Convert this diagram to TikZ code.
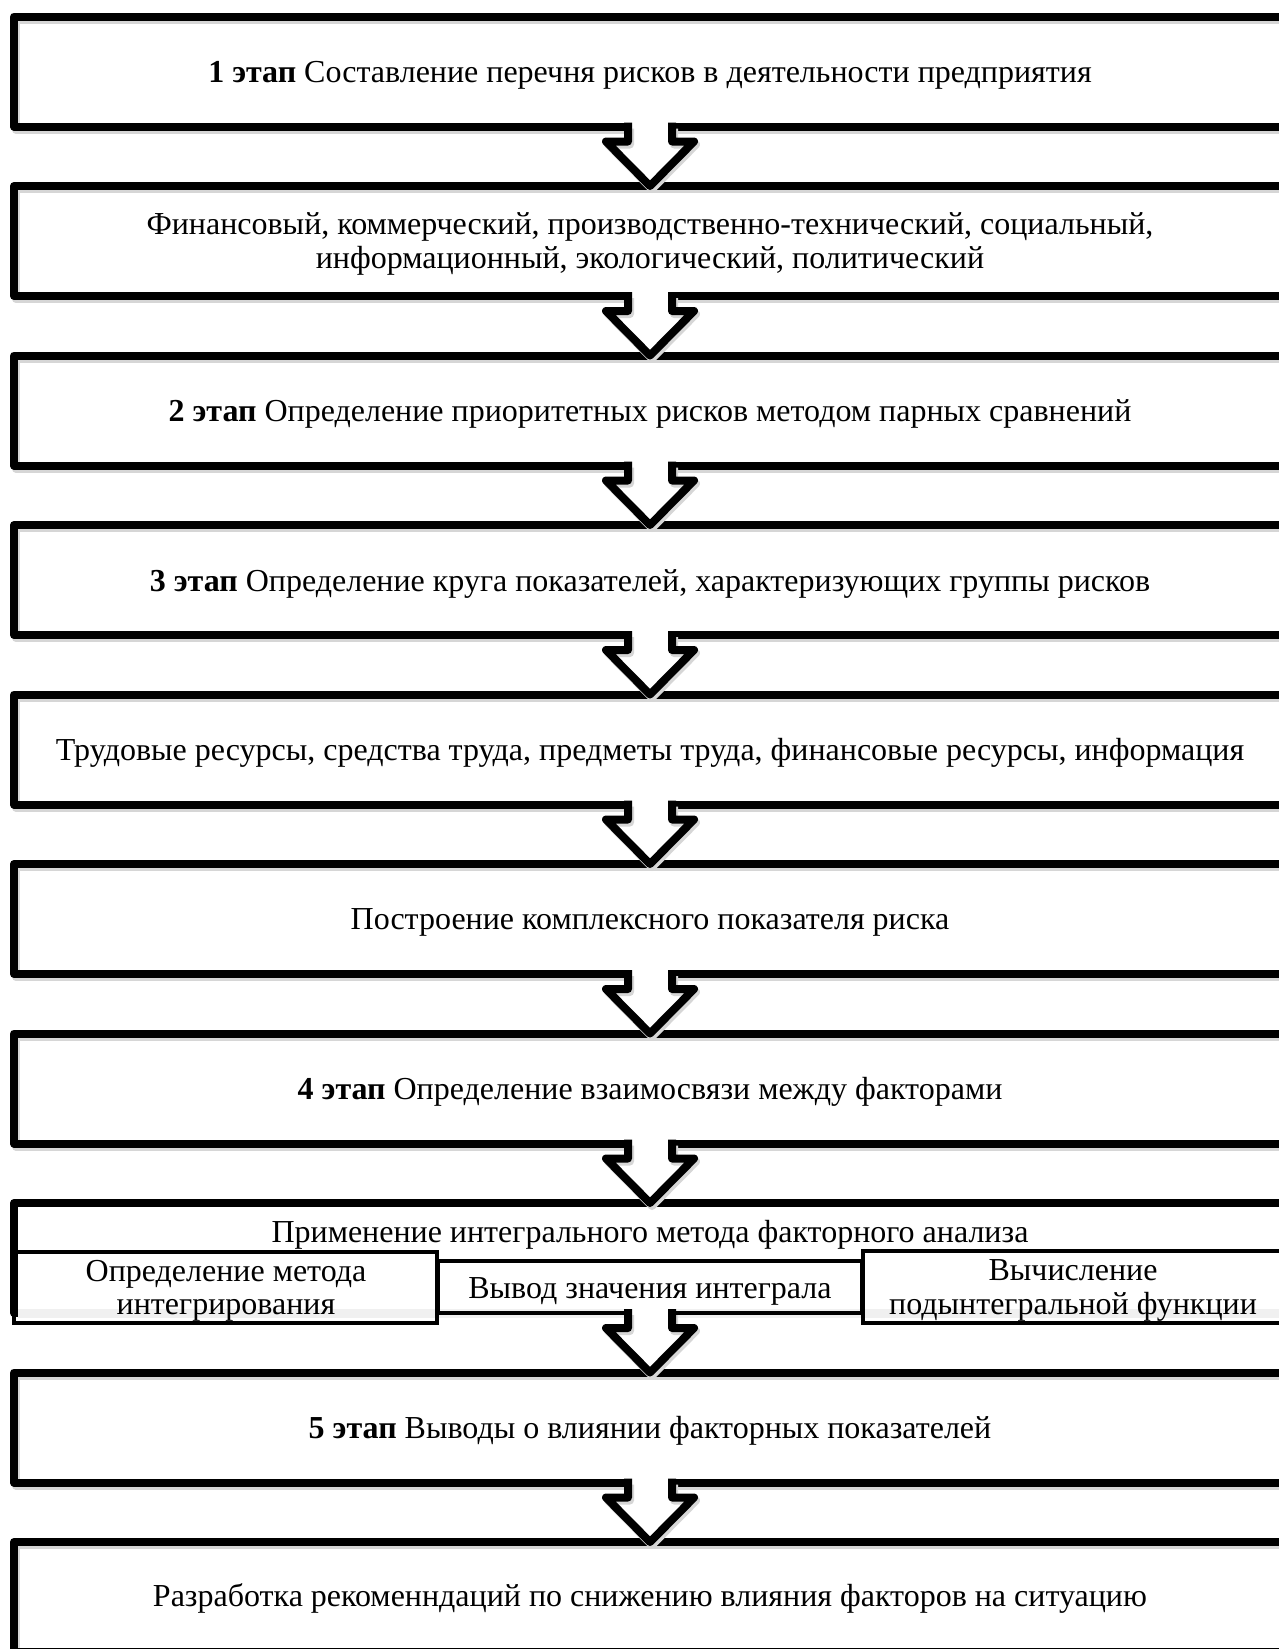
\documentclass[tikz,border=0pt]{standalone}
\usepackage{fontspec}
\setmainfont{Liberation Serif}
\usetikzlibrary{calc}
\newcommand\flowarrow[2]{%
  \fill[white] ($(#1.south)+(-22,-4.5)$) -- ($(#1.south)+(-22,15)$) -- ($(#1.south)+(-44,15)$)
    -- (#2.north) -- ($(#1.south)+(44,15)$) -- ($(#1.south)+(22,15)$) -- ($(#1.south)+(22,-4.5)$) -- cycle;
  \draw[arrline, black!16] ($(#1.south)+(-20,2)$) -- ($(#1.south)+(-20,18)$) -- ($(#1.south)+(-42,18)$)
    -- ($(#2.north)+(2,3)$) -- ($(#1.south)+(46,18)$) -- ($(#1.south)+(24,18)$) -- ($(#1.south)+(24,2)$);
  \draw[arrline] ($(#1.south)+(-22,-4)$) -- ($(#1.south)+(-22,15)$) -- ($(#1.south)+(-44,15)$)
    -- (#2.north) -- ($(#1.south)+(44,15)$) -- ($(#1.south)+(22,15)$) -- ($(#1.south)+(22,-4)$);
}
\begin{document}
\begin{tikzpicture}[x=1pt,y=-1pt,
  frame/.style={draw=black, line width=8pt, line join=round, minimum width=1272pt,
    minimum height=110pt, inner sep=0pt, outer sep=0pt},
  box/.style={frame, preaction={draw=black!16, line width=8pt, transform canvas={shift={(2pt,-3pt)}}}},
  subbox/.style={draw=black, line width=4.5pt, inner sep=0pt, outer sep=0pt},
  txt/.style={inner sep=0pt, align=center, font=\fontsize{32}{33.5}\selectfont},
  arrline/.style={draw=black, line width=8pt, line join=round}]
\useasboundingbox (0,0) rectangle (1279,1649);
\clip (0,0) rectangle (1279,1649);
\fill[white] (0,0) rectangle (1279,1649);

\node[box] (b1) at (650,71.5) {};
\node[txt] (t1) at ($(b1.center)+(0,3.5)$) {\textbf{1 этап} Составление перечня рисков в деятельности предприятия};
\node[box] (b2) at (650,241) {};
\node[txt] (t2) at ($(b2.center)+(0,3)$) {Финансовый, коммерческий, производственно-технический, социальный,\\информационный, экологический, политический};
\node[box] (b3) at (650,410.5) {};
\node[txt] (t3) at ($(b3.center)+(0,3.5)$) {\textbf{2 этап} Определение приоритетных рисков методом парных сравнений};
\node[box] (b4) at (650,580) {};
\node[txt] (t4) at ($(b4.center)+(0,3.5)$) {\textbf{3 этап} Определение круга показателей, характеризующих группы рисков};
\node[box] (b5) at (650,749.5) {};
\node[txt] (t5) at ($(b5.center)+(0,3.5)$) {Трудовые ресурсы, средства труда, предметы труда, финансовые ресурсы, информация};
\node[box] (b6) at (650,919) {};
\node[txt] (t6) at ($(b6.center)+(0,3.5)$) {Построение комплексного показателя риска};
\node[box] (b7) at (650,1088.5) {};
\node[txt] (t7) at ($(b7.center)+(0,3.5)$) {\textbf{4 этап} Определение взаимосвязи между факторами};

\node[frame] (b8) at (650,1258) {};
\draw[gray!12, line width=9pt] ($(b8.south west)+(4,0)$) -- ($(b8.south east)+(6,0)$);
\node[txt] (b8t) at (650,1235) {Применение интегрального метода факторного анализа};
\node[subbox, minimum width=423pt, minimum height=71pt] (s1) at (225.5,1287.5) {};
\node[txt] (s1t) at (226,1291) {Определение метода\\интегрирования};
\node[subbox, minimum width=424pt, minimum height=52pt] (s2) at (650,1287) {};
\node[txt] (s2t) at (650,1291) {Вывод значения интеграла};
\node[subbox, minimum width=422pt, minimum height=72pt] (s3) at (1074,1287) {};
\node[txt] (s3t) at (1073,1290.5) {Вычисление\\подынтегральной функции};

\node[box] (b9) at (650,1427.5) {};
\node[txt] (t9) at ($(b9.center)+(0,3.5)$) {\textbf{5 этап} Выводы о влиянии факторных показателей};
\node[box] (b10) at (650,1597) {};
\node[txt] (t10) at ($(b10.center)+(0,1)$) {Разработка рекоменндаций по снижению влияния факторов на ситуацию};

\flowarrow{b1}{b2}
\flowarrow{b2}{b3}
\flowarrow{b3}{b4}
\flowarrow{b4}{b5}
\flowarrow{b5}{b6}
\flowarrow{b6}{b7}
\flowarrow{b7}{b8}
\flowarrow{s2}{b9}
\flowarrow{b9}{b10}
\end{tikzpicture}
\end{document}
